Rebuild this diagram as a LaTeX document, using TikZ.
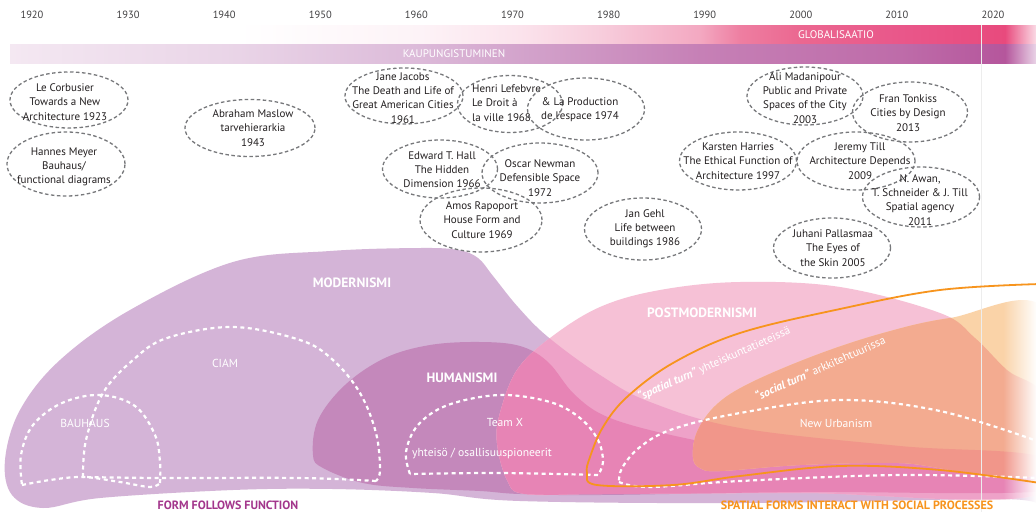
\documentclass[tikz,border=0pt]{standalone}
\usepackage{fontspec}
\setmainfont{PT Sans}
\usetikzlibrary{shapes.geometric,fadings}
\definecolor{cM}{HTML}{D4B4D7}
\definecolor{cH}{HTML}{C488BB}
\definecolor{cP}{HTML}{F6C1D6}
\definecolor{cPM}{HTML}{EEA2C8}
\definecolor{cPH}{HTML}{E784B5}
\definecolor{cO}{HTML}{FAD3A8}
\definecolor{cOP}{HTML}{F3AB90}
\definecolor{cOPM}{HTML}{F1968A}
\definecolor{orng}{HTML}{F7941D}
\definecolor{fffc}{HTML}{A3368C}
\definecolor{bubgray}{HTML}{77787B}
\definecolor{txtc}{HTML}{231F20}
\definecolor{yrc}{HTML}{414042}
\definecolor{g0}{HTML}{FFFFFF}
\definecolor{g1}{HTML}{FDF3F7}
\definecolor{g2}{HTML}{FBE3EC}
\definecolor{g3}{HTML}{F7CDDC}
\definecolor{g4}{HTML}{F3A8C1}
\definecolor{g5}{HTML}{EE7EA1}
\definecolor{g6}{HTML}{EB6790}
\definecolor{g7}{HTML}{E9578A}
\definecolor{g8}{HTML}{E84A7D}
\definecolor{g9}{HTML}{FBDDE7}
\definecolor{k0}{HTML}{F4E8F2}
\definecolor{k1}{HTML}{E9D4E7}
\definecolor{k2}{HTML}{DCBAD9}
\definecolor{k3}{HTML}{D3A4CC}
\definecolor{k4}{HTML}{C680B6}
\definecolor{k5}{HTML}{BE6CA9}
\definecolor{k6}{HTML}{B5569C}
\definecolor{k7}{HTML}{EAD5E8}
\tikzfading[name=fadeR, left color=transparent!100, right color=transparent!0]
\newcommand\bub[6]{%
  \node[bubble, minimum width=#3pt, minimum height=#4pt] (#1) at (#2) {};
  \node[btxt] (#1t) at (#5) {#6};}
\def\Mp{plot[smooth cycle, tension=0.6] coordinates {(43,508) (12,495) (5,460) (20,410) (60,360) (130,310) (233,262) (330,251) (420,248) (458,250) (478,258) (493,276) (518,307) (548,337) (600,375) (650,402) (740,428) (900,446) (1045,458) (1045,503) (1000,499) (740,503) (520,501) (433,493) (333,489) (233,490) (100,498)}}
\def\Hp{plot[smooth cycle, tension=0.6] coordinates {(313,455) (318,420) (345,385) (385,358) (430,345) (480,342) (520,346) (548,362) (575,395) (610,418) (680,437) (760,450) (900,458) (1045,464) (1045,491) (800,492) (600,495) (520,494) (480,491) (413,488) (363,483) (323,468)}}
\def\Pp{plot[smooth cycle, tension=0.6] coordinates {(497,443) (500,413) (517,370) (550,338) (600,307) (660,290) (740,282) (840,287) (940,313) (975,338) (1007,370) (1045,400) (1045,493) (800,493) (600,494) (525,494) (507,480)}}
\def\Op{plot[smooth cycle, tension=0.6] coordinates {(693,457) (697,432) (716,405) (750,383) (816,355) (883,333) (950,318) (1045,310) (1045,468) (900,463) (800,465) (720,471) (700,468)}}
\begin{document}
\begin{tikzpicture}[x=1pt,y=-1pt,
  bubble/.style={ellipse, draw=bubgray, line width=1.3pt, dash pattern=on 3.5pt off 2.5pt, inner sep=0pt},
  btxt/.style={align=center, font=\fontsize{11}{14.2}\selectfont, text=txtc, inner sep=0pt},
  yr/.style={font=\fontsize{10.5}{12}\selectfont, text=yrc, inner sep=0pt},
  bartxt/.style={font=\fontsize{11}{12}\selectfont, text=white, inner sep=0pt},
  lbl/.style={font=\fontsize{11.6}{13}\selectfont, text=white, inner sep=0pt},
  lblb/.style={font=\bfseries\fontsize{13.5}{15}\selectfont, text=white, inner sep=0pt},
  wd/.style={draw=white, line width=2.2pt, dash pattern=on 4pt off 3.5pt},
  orl/.style={draw=orng, line width=1.8pt}]
\useasboundingbox (0,0) rectangle (1036,512);
\fill[white] (0,0) rectangle (1036,512);
% top bars
\foreach \xa/\xb/\ca/\cb in {238/420/g0/g1,420/520/g1/g2,520/600/g2/g3,600/700/g3/g4,700/740/g4/g5,740/800/g5/g6,800/900/g6/g7,900/1005/g7/g8,1005/1036/g8/g9}
  {\shade[left color=\ca, right color=\cb] (\xa,25) rectangle (\xb+0.5,44);}
\foreach \xa/\xb/\ca/\cb in {10/238/k0/k1,238/420/k1/k2,420/516/k2/k3,516/700/k3/k4,700/900/k4/k5,900/1005/k5/k6,1005/1036/k6/k7}
  {\shade[left color=\ca, right color=\cb] (\xa,44) rectangle (\xb+0.5,63);}
\node[bartxt] (glob) at (836,35) {GLOBALISAATIO};
\node[bartxt] (kaup) at (454,53.5) {KAUPUNGISTUMINEN};
% blobs
\fill[cM] \Mp;
\fill[cH] \Hp;
\fill[cP] \Pp;
\begin{scope}
  \clip \Pp;
  \fill[cPM] \Mp;
  \fill[cPH] \Hp;
\end{scope}
\fill[cO] \Op;
\begin{scope}
  \clip \Op;
  \fill[cOP] \Pp;
  \clip \Pp;
  \fill[cOPM] \Mp;
\end{scope}
\fill[white, path fading=fadeR] (1003,240) rectangle (1037,512);
\draw[black!7, line width=0.6pt] (981,25) -- (981,512);
% white dashed groupings
\draw[wd] plot[smooth, tension=0.6] coordinates {(160,483) (160,462) (155,435) (135,406) (100,395) (62,403) (33,425) (21,455) (22,485)}
  plot[smooth, tension=0.6] coordinates {(22,485) (50,480) (83,477) (120,482) (150,487) (160,483)};
\draw[wd] plot[smooth, tension=0.6] coordinates {(83,477) (86,440) (103,393) (133,360) (167,338) (233,327) (300,340) (333,360) (360,393) (376,433) (380,470) (376,481)}
  plot[smooth, tension=0.6] coordinates {(376,481) (300,478) (163,478) (83,477)};
\draw[wd] plot[smooth, tension=0.6] coordinates {(410,474) (406,452) (418,425) (448,405) (500,395) (550,402) (580,418) (598,440) (603,462) (598,475)}
  plot[smooth, tension=0.6] coordinates {(598,475) (500,473) (410,474)};
\draw[wd] plot[smooth, tension=0.6] coordinates {(1040,442) (940,411) (840,400) (740,413) (673,429) (640,447) (622,468) (619,482)}
  plot[smooth, tension=0.6] coordinates {(619,482) (650,487) (740,481) (900,475) (1040,478)};
% orange line
\draw[orl] plot[smooth, tension=0.6] coordinates {(1040,284) (940,290) (840,309) (740,333) (673,363) (627,397) (603,427) (590,457) (587,473) (597,485) (673,485) (740,476) (840,466) (940,470) (1040,483)};
% labels
\node[lblb] (mod) at (352,283) {MODERNISMI};
\node[lbl] (ciam) at (225,363) {CIAM};
\node[lbl] (bauh) at (85,423) {BAUHAUS};
\node[lblb] (hum) at (462,378) {HUMANISMI};
\node[lbl] (teamx) at (505,423) {Team X};
\node[lbl] (yht) at (482,454) {yhteisö / osallisuuspioneerit};
\node[lblb] (post) at (702,313) {POSTMODERNISMI};
\node[lbl, rotate=24] (spt) at (714,364) {\textbf{\textit{“spatial turn”}} yhteiskuntatieteissä};
\node[lbl, rotate=24] (sct) at (820,368) {\textbf{\textit{“social turn”}} arkkitehtuurissa};
\node[lbl] (nu) at (836,423) {New Urbanism};
\node[font=\bfseries\fontsize{12}{13}\selectfont, text=fffc, inner sep=0pt] (fff) at (228,505) {FORM FOLLOWS FUNCTION};
\node[font=\bfseries\fontsize{12}{13}\selectfont, text=orng, inner sep=0pt] (sfi) at (857,505) {SPATIAL FORMS INTERACT WITH SOCIAL PROCESSES};
% years
\foreach \yy [count=\i from 0] in {1920,1930,1940,1950,1960,1970,1980,1990,2000,2010,2020}
  {\node[yr] (y\yy) at (32+96.1*\i,15) {\yy};}
% bubbles
\bub{corb}{69,100}{118}{56}{65,102}{Le Corbusier\\Towards a New\\Architecture 1923}
\bub{meyer}{66,164}{118}{64}{64,167}{Hannes Meyer\\Bauhaus/\\functional diagrams}
\bub{maslow}{250,128}{130}{57}{253,128}{Abraham Maslow\\tarvehierarkia\\1943}
\bub{jacobs}{404,96}{118}{56}{403,98}{Jane Jacobs\\The Death and Life of\\Great American Cities\\1961}
\node[bubble, minimum width=105pt, minimum height=57pt] (lefeb) at (510,104) {};
\node[btxt, align=left, anchor=west] (lefebt) at (472,103) {Henri Lefebvre\\Le Droit à\\la ville 1968};
\bub{prod}{586,109}{117}{62}{580,110}{\& La Production\\de l'espace 1974}
\bub{hall}{440,169}{115}{58}{442,170}{Edward T. Hall\\The Hidden\\Dimension 1966}
\bub{newman}{540,173}{116}{60}{540,178}{Oscar Newman\\Defensible Space\\1972}
\bub{rapop}{481,220}{122}{64}{482,220}{Amos Rapoport\\House Form and\\Culture 1969}
\bub{gehl}{643,229}{117}{62}{645,229}{Jan Gehl\\Life between\\buildings 1986}
\bub{madani}{805,96}{116}{58}{805,98}{Ali Madanipour\\Public and Private\\Spaces of the City\\2003}
\bub{tonkiss}{910,112}{115}{60}{908,113}{Fran Tonkiss\\Cities by Design\\2013}
\bub{harries}{738,161}{117}{58}{738,161}{Karsten Harries\\The Ethical Function of\\Architecture 1997}
\bub{till}{856,161}{118}{58}{860,161}{Jeremy Till\\Architecture Depends\\2009}
\bub{awan}{921,197}{117}{60}{920,200}{N. Awan,\\T. Schneider \& J. Till\\Spatial agency\\2011}
\bub{palla}{832,248}{117}{60}{833,248}{Juhani Pallasmaa\\The Eyes of\\the Skin 2005}
\end{tikzpicture}
\end{document}
